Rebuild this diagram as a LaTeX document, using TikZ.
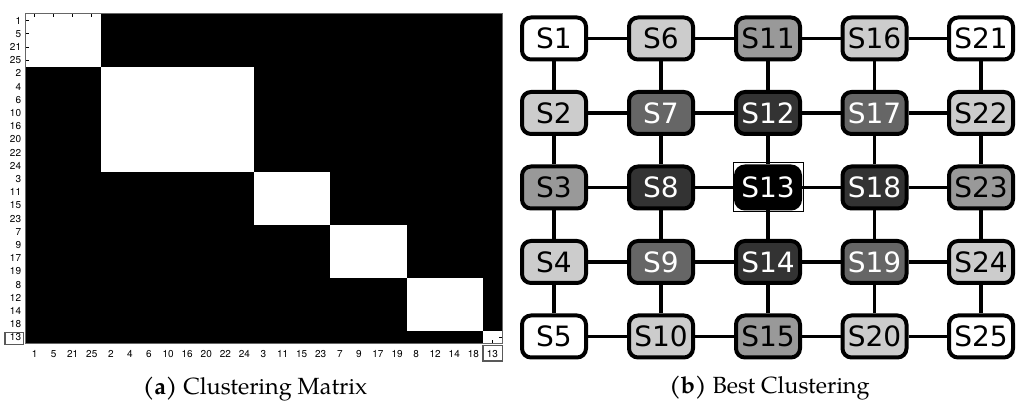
\documentclass[tikz,border=0pt]{standalone}
\usepackage{fontspec}
\setmainfont{TeX Gyre Pagella}
\newfontfamily\nodefont{DejaVu Sans}
\newfontfamily\axisfont{TeX Gyre Heros}
\usetikzlibrary{backgrounds}
\definecolor{cLight}{HTML}{CCCCCC}
\definecolor{cMid}{HTML}{999999}
\definecolor{cDark}{HTML}{666666}
\definecolor{cDarker}{HTML}{333333}
\tikzset{
  snode/.style={draw=black, line width=2pt, rounded corners=4.5pt,
    minimum width=32pt, minimum height=21pt, inner sep=0pt,
    font=\nodefont\fontsize{14}{16}\selectfont},
  sedge/.style={draw=black, line width=1.8pt},
  axislab/.style={font=\axisfont\fontsize{5}{6}\selectfont, inner sep=0pt},
  tick/.style={black, line width=0.4pt},
  capt/.style={font=\fontsize{11.7}{13}\selectfont, inner sep=0pt, anchor=base}
}
\begin{document}
\begin{tikzpicture}[x=0.5pt,y=-0.5pt]
\useasboundingbox (0,0) rectangle (1024,405);
% ---------- (a) clustering matrix ----------
\fill[black] (25,14) rectangle (502,344);
\foreach \a/\b in {0/4,4/12,12/16,16/20,20/24,24/25}
  \fill[white] ({25+19.08*\a},{14+13.2*\a}) rectangle ({25+19.08*\b},{14+13.2*\b});
\foreach \lab [count=\i from 0] in {1,5,21,25,2,4,6,10,16,20,22,24,3,11,15,23,7,9,17,19,8,12,14,18,13} {
  \pgfmathsetmacro{\xc}{25+19.08*(\i+0.5)}
  \pgfmathsetmacro{\yc}{14+13.2*(\i+0.5)}
  \draw[tick] (\xc,14) -- (\xc,17.5);
  \draw[tick] (\xc,344) -- (\xc,340.5);
  \draw[tick] (25,\yc) -- (28.5,\yc);
  \draw[tick] (502,\yc) -- (498.5,\yc);
  \node[axislab, anchor=east] (rl\i) at (21.5,\yc) {\lab};
  \node[axislab] (cl\i) at (\xc,354) {\lab};
}
\draw[gray!80!black, line width=0.5pt] (25,14) rectangle (502,344);
\draw[gray!70!black, line width=0.6pt] (5,332.5) rectangle (23.5,344.5);
\draw[gray!70!black, line width=0.6pt] (483,345.5) rectangle (502.5,361);
\node[capt] (capa) at (255,395) {\textbf{(a)} Clustering Matrix};
% ---------- (b) best clustering ----------
\node[draw=black, line width=0.5pt, minimum width=35pt, minimum height=24.5pt, inner sep=0pt] (sel) at (768,187.5) {};
\foreach \n/\cx/\cy/\fc/\tc in {
  1/554/38.5/white/black, 2/554/113/cLight/black, 3/554/187.5/cMid/black, 4/554/262/cLight/black, 5/554/336.5/white/black,
  6/661/38.5/cLight/black, 7/661/113/cDark/white, 8/661/187.5/cDarker/white, 9/661/262/cDark/white, 10/661/336.5/cLight/black,
  11/768/38.5/cMid/black, 12/768/113/cDarker/white, 13/768/187.5/black/white, 14/768/262/cDarker/white, 15/768/336.5/cMid/black,
  16/874.5/38.5/cLight/black, 17/874.5/113/cDark/white, 18/874.5/187.5/cDarker/white, 19/874.5/262/cDark/white, 20/874.5/336.5/cLight/black,
  21/981/38.5/white/black, 22/981/113/cLight/black, 23/981/187.5/cMid/black, 24/981/262/cLight/black, 25/981/336.5/white/black}
  \node[snode, fill=\fc, text=\tc] (s\n) at (\cx,\cy) {S\n};
\begin{pgfonlayer}{background}
\foreach \i in {1,...,20} {
  \pgfmathtruncatemacro{\j}{\i+5}
  \draw[sedge] (s\i) -- (s\j);
}
\foreach \i in {1,2,3,4,6,7,8,9,11,12,13,14,16,17,18,19,21,22,23,24} {
  \pgfmathtruncatemacro{\j}{\i+1}
  \draw[sedge] (s\i) -- (s\j);
}
\end{pgfonlayer}
\node[capt] (capb) at (769.5,394) {\textbf{(b)} Best Clustering};
\end{tikzpicture}
\end{document}
